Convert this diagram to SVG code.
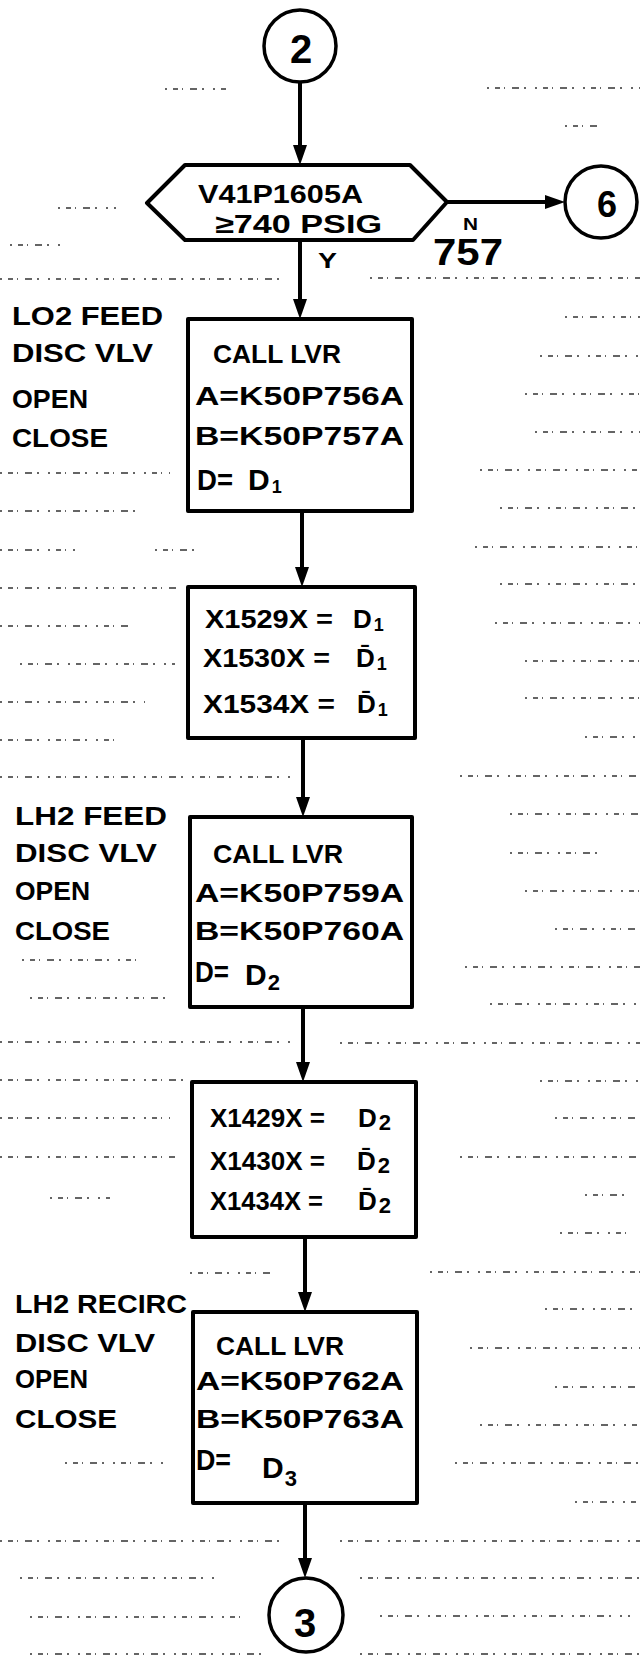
<svg xmlns="http://www.w3.org/2000/svg" width="640" height="1657" viewBox="0 0 640 1657">
<style>
.bg{fill:#fff}
.rule{stroke:#333;stroke-width:1.7;stroke-dasharray:2 6 5 4 1 7 7 5 2 9;fill:none}
.shape{fill:#fff;stroke:#000;stroke-width:4;stroke-linejoin:round}
.ring{fill:#fff;stroke:#000;stroke-width:3.5}
.conn{stroke:#000;stroke-width:4;fill:none}
.t{font-family:"Liberation Sans","DejaVu Sans",sans-serif;font-weight:bold;font-size:26px;fill:#000}
.big{font-size:40px}
.sub{font-size:18px}
.dd{font-size:30px}
</style>
<defs>
<marker id="arr" viewBox="0 0 20 14" markerWidth="20" markerHeight="14" refX="14" refY="7" orient="auto" markerUnits="userSpaceOnUse">
<path d="M0,0 L20,7 L0,14 z" fill="#000"/>
</marker>
</defs>
<rect class="bg" x="0" y="0" width="640" height="1657"/>
<g id="paper-rules">
<line class="rule" x1="165" y1="89" x2="230" y2="89"/>
<line class="rule" x1="487" y1="88" x2="640" y2="88"/>
<line class="rule" x1="565" y1="126" x2="600" y2="126"/>
<line class="rule" x1="58" y1="208" x2="116" y2="208"/>
<line class="rule" x1="10" y1="245" x2="63" y2="245"/>
<line class="rule" x1="0" y1="279" x2="285" y2="279"/>
<line class="rule" x1="370" y1="278" x2="640" y2="278"/>
<line class="rule" x1="565" y1="317" x2="640" y2="317"/>
<line class="rule" x1="540" y1="356" x2="640" y2="356"/>
<line class="rule" x1="525" y1="394" x2="640" y2="394"/>
<line class="rule" x1="535" y1="432" x2="640" y2="432"/>
<line class="rule" x1="480" y1="470" x2="640" y2="470"/>
<line class="rule" x1="0" y1="473" x2="170" y2="473"/>
<line class="rule" x1="500" y1="508" x2="640" y2="508"/>
<line class="rule" x1="0" y1="511" x2="140" y2="511"/>
<line class="rule" x1="475" y1="547" x2="640" y2="547"/>
<line class="rule" x1="0" y1="550" x2="75" y2="550"/>
<line class="rule" x1="155" y1="550" x2="200" y2="550"/>
<line class="rule" x1="500" y1="584" x2="640" y2="584"/>
<line class="rule" x1="0" y1="588" x2="180" y2="588"/>
<line class="rule" x1="495" y1="623" x2="640" y2="623"/>
<line class="rule" x1="0" y1="626" x2="130" y2="626"/>
<line class="rule" x1="525" y1="661" x2="640" y2="661"/>
<line class="rule" x1="20" y1="664" x2="175" y2="664"/>
<line class="rule" x1="525" y1="698" x2="640" y2="698"/>
<line class="rule" x1="0" y1="702" x2="145" y2="702"/>
<line class="rule" x1="585" y1="737" x2="640" y2="737"/>
<line class="rule" x1="0" y1="740" x2="120" y2="740"/>
<line class="rule" x1="0" y1="777" x2="290" y2="777"/>
<line class="rule" x1="460" y1="776" x2="640" y2="776"/>
<line class="rule" x1="510" y1="814" x2="640" y2="814"/>
<line class="rule" x1="510" y1="853" x2="600" y2="853"/>
<line class="rule" x1="525" y1="891" x2="640" y2="891"/>
<line class="rule" x1="555" y1="929" x2="640" y2="929"/>
<line class="rule" x1="22" y1="960" x2="143" y2="960"/>
<line class="rule" x1="465" y1="967" x2="640" y2="967"/>
<line class="rule" x1="30" y1="998" x2="170" y2="998"/>
<line class="rule" x1="490" y1="1004" x2="640" y2="1004"/>
<line class="rule" x1="0" y1="1042" x2="290" y2="1042"/>
<line class="rule" x1="340" y1="1043" x2="640" y2="1043"/>
<line class="rule" x1="0" y1="1080" x2="185" y2="1080"/>
<line class="rule" x1="540" y1="1081" x2="640" y2="1081"/>
<line class="rule" x1="0" y1="1118" x2="170" y2="1118"/>
<line class="rule" x1="555" y1="1118" x2="640" y2="1118"/>
<line class="rule" x1="0" y1="1157" x2="175" y2="1157"/>
<line class="rule" x1="460" y1="1157" x2="640" y2="1157"/>
<line class="rule" x1="50" y1="1198" x2="110" y2="1198"/>
<line class="rule" x1="585" y1="1195" x2="625" y2="1195"/>
<line class="rule" x1="560" y1="1233" x2="630" y2="1233"/>
<line class="rule" x1="190" y1="1273" x2="270" y2="1273"/>
<line class="rule" x1="430" y1="1272" x2="640" y2="1272"/>
<line class="rule" x1="545" y1="1309" x2="640" y2="1309"/>
<line class="rule" x1="470" y1="1348" x2="640" y2="1348"/>
<line class="rule" x1="555" y1="1387" x2="640" y2="1387"/>
<line class="rule" x1="480" y1="1425" x2="640" y2="1425"/>
<line class="rule" x1="65" y1="1463" x2="165" y2="1463"/>
<line class="rule" x1="455" y1="1463" x2="640" y2="1463"/>
<line class="rule" x1="575" y1="1502" x2="640" y2="1502"/>
<line class="rule" x1="0" y1="1541" x2="280" y2="1541"/>
<line class="rule" x1="340" y1="1541" x2="640" y2="1541"/>
<line class="rule" x1="20" y1="1578" x2="220" y2="1578"/>
<line class="rule" x1="360" y1="1578" x2="640" y2="1578"/>
<line class="rule" x1="30" y1="1617" x2="240" y2="1617"/>
<line class="rule" x1="380" y1="1616" x2="630" y2="1616"/>
<line class="rule" x1="30" y1="1654" x2="270" y2="1654"/>
<line class="rule" x1="360" y1="1654" x2="640" y2="1654"/>
</g>
<g id="connectors">
<path class="conn" d="M300,82 V159" marker-end="url(#arr)"/>
<path class="conn" d="M300,240 V313" marker-end="url(#arr)"/>
<path class="conn" d="M302,511 V581" marker-end="url(#arr)"/>
<path class="conn" d="M303,738 V811" marker-end="url(#arr)"/>
<path class="conn" d="M303,1007 V1076" marker-end="url(#arr)"/>
<path class="conn" d="M305,1237 V1306" marker-end="url(#arr)"/>
<path class="conn" d="M305,1503 V1572" marker-end="url(#arr)"/>
<path class="conn" d="M447,202 H559" marker-end="url(#arr)"/>
<text class="t" x="318" y="268" style="font-size:22px" textLength="19" lengthAdjust="spacingAndGlyphs">Y</text>
<text class="t" x="463" y="230" style="font-size:16px" textLength="15" lengthAdjust="spacingAndGlyphs">N</text>
</g>
<g id="connector-2">
<circle class="ring" cx="300" cy="46" r="36"/>
<text class="t big" x="301" y="63" text-anchor="middle">2</text>
</g>
<g id="decision">
<polygon class="shape" points="147,203 185,165 410,165 447,202 413,240 185,240"/>
<text class="t" x="198" y="203" textLength="165" lengthAdjust="spacingAndGlyphs">V41P1605A</text>
<text class="t" x="215" y="233" textLength="167" lengthAdjust="spacingAndGlyphs">≥740 PSIG</text>
<text class="t" x="433" y="265" style="font-size:36px" textLength="70" lengthAdjust="spacingAndGlyphs">757</text>
</g>
<g id="connector-6">
<circle class="ring" cx="601" cy="202" r="36"/>
<text class="t" x="607" y="217" text-anchor="middle" style="font-size:36px">6</text>
</g>
<g id="label-lo2">
<text class="t" x="12" y="325" textLength="151" lengthAdjust="spacingAndGlyphs">LO2 FEED</text>
<text class="t" x="12" y="362" textLength="141" lengthAdjust="spacingAndGlyphs">DISC VLV</text>
<text class="t" x="12" y="408" textLength="76" lengthAdjust="spacingAndGlyphs">OPEN</text>
<text class="t" x="12" y="447" textLength="96" lengthAdjust="spacingAndGlyphs">CLOSE</text>
</g>
<g id="call-lvr-1">
<rect class="shape" x="188" y="319" width="224" height="192"/>
<text class="t" x="213" y="363" textLength="128" lengthAdjust="spacingAndGlyphs">CALL LVR</text>
<text class="t" x="195" y="405" textLength="209" lengthAdjust="spacingAndGlyphs">A=K50P756A</text>
<text class="t" x="195" y="445" textLength="209" lengthAdjust="spacingAndGlyphs">B=K50P757A</text>
<text class="t dd" x="197" y="490" textLength="36" lengthAdjust="spacingAndGlyphs">D=</text>
<text class="t dd" x="248" y="490">D<tspan class="sub" dx="2" dy="3">1</tspan></text>
</g>
<g id="set-1">
<rect class="shape" x="188" y="587" width="227" height="151"/>
<text class="t" x="205" y="628" textLength="128" lengthAdjust="spacingAndGlyphs">X1529X =</text>
<text class="t" x="353" y="628">D<tspan class="sub" dx="2" dy="3">1</tspan></text>
<text class="t" x="203" y="667" textLength="127" lengthAdjust="spacingAndGlyphs">X1530X =</text>
<text class="t" x="356" y="667">D&#x0304;<tspan class="sub" dx="2" dy="3">1</tspan></text>
<text class="t" x="203" y="713" textLength="132" lengthAdjust="spacingAndGlyphs">X1534X =</text>
<text class="t" x="357" y="713">D&#x0304;<tspan class="sub" dx="2" dy="3">1</tspan></text>
</g>
<g id="label-lh2-feed">
<text class="t" x="15" y="825" textLength="152" lengthAdjust="spacingAndGlyphs">LH2 FEED</text>
<text class="t" x="15" y="862" textLength="142" lengthAdjust="spacingAndGlyphs">DISC VLV</text>
<text class="t" x="15" y="900" textLength="75" lengthAdjust="spacingAndGlyphs">OPEN</text>
<text class="t" x="15" y="940" textLength="95" lengthAdjust="spacingAndGlyphs">CLOSE</text>
</g>
<g id="call-lvr-2">
<rect class="shape" x="190" y="817" width="222" height="190"/>
<text class="t" x="213" y="863" textLength="130" lengthAdjust="spacingAndGlyphs">CALL LVR</text>
<text class="t" x="195" y="902" textLength="209" lengthAdjust="spacingAndGlyphs">A=K50P759A</text>
<text class="t" x="195" y="940" textLength="209" lengthAdjust="spacingAndGlyphs">B=K50P760A</text>
<text class="t dd" x="195" y="982" textLength="34" lengthAdjust="spacingAndGlyphs">D=</text>
<text class="t dd" x="245" y="985">D<tspan class="sub" dx="1" dy="5" style="font-size:22px">2</tspan></text>
</g>
<g id="set-2">
<rect class="shape" x="192" y="1082" width="224" height="155"/>
<text class="t" x="210" y="1127" textLength="115" lengthAdjust="spacingAndGlyphs">X1429X =</text>
<text class="t" x="358" y="1127">D<tspan class="sub" dx="2" dy="3" style="font-size:22px">2</tspan></text>
<text class="t" x="210" y="1170" textLength="115" lengthAdjust="spacingAndGlyphs">X1430X =</text>
<text class="t" x="357" y="1170">D&#x0304;<tspan class="sub" dx="2" dy="3" style="font-size:22px">2</tspan></text>
<text class="t" x="210" y="1210" textLength="113" lengthAdjust="spacingAndGlyphs">X1434X =</text>
<text class="t" x="358" y="1210">D&#x0304;<tspan class="sub" dx="2" dy="3" style="font-size:22px">2</tspan></text>
</g>
<g id="label-lh2-recirc">
<text class="t" x="15" y="1313" textLength="172" lengthAdjust="spacingAndGlyphs">LH2 RECIRC</text>
<text class="t" x="15" y="1352" textLength="140" lengthAdjust="spacingAndGlyphs">DISC VLV</text>
<text class="t" x="15" y="1388" textLength="73" lengthAdjust="spacingAndGlyphs">OPEN</text>
<text class="t" x="15" y="1428" textLength="102" lengthAdjust="spacingAndGlyphs">CLOSE</text>
</g>
<g id="call-lvr-3">
<rect class="shape" x="193" y="1312" width="224" height="191"/>
<text class="t" x="216" y="1355" textLength="128" lengthAdjust="spacingAndGlyphs">CALL LVR</text>
<text class="t" x="196" y="1390" textLength="208" lengthAdjust="spacingAndGlyphs">A=K50P762A</text>
<text class="t" x="196" y="1428" textLength="208" lengthAdjust="spacingAndGlyphs">B=K50P763A</text>
<text class="t dd" x="196" y="1470" textLength="35" lengthAdjust="spacingAndGlyphs">D=</text>
<text class="t dd" x="262" y="1478">D<tspan class="sub" dx="1" dy="8" style="font-size:22px">3</tspan></text>
</g>
<g id="connector-3">
<circle class="ring" cx="306" cy="1615" r="37"/>
<text class="t big" x="305" y="1637" text-anchor="middle">3</text>
</g>
</svg>
